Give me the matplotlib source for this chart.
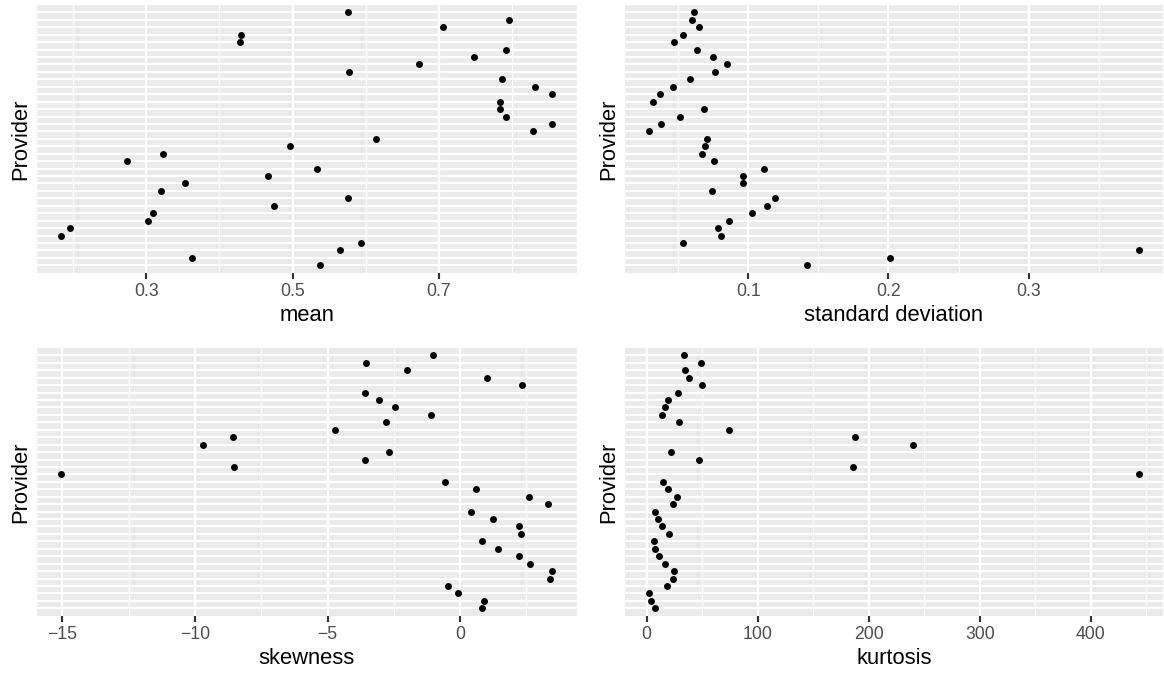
import matplotlib

matplotlib.use("Agg")
import matplotlib.pyplot as plt

plt.rcParams["font.family"] = ["Liberation Sans", "DejaVu Sans"]

# 35 providers, listed top to bottom (names are not shown on the chart)
providers = [f"P{ii:02d}" for ii in range(1, 36)]

mean_vals = [0.576, 0.795, 0.705, 0.430, 0.428, 0.791, 0.748, 0.673, 0.577, 0.786,
             0.831, 0.855, 0.783, 0.784, 0.792, 0.855, 0.829, 0.614, 0.496, 0.323,
             0.274, 0.534, 0.467, 0.353, 0.320, 0.576, 0.475, 0.310, 0.303, 0.196,
             0.184, 0.594, 0.565, 0.362, 0.538]

sd_vals = [0.0613, 0.0601, 0.0649, 0.0533, 0.0473, 0.0633, 0.0751, 0.0848, 0.0765, 0.0583,
           0.0464, 0.0374, 0.0322, 0.0687, 0.0512, 0.0377, 0.0293, 0.0708, 0.0692, 0.0673,
           0.0758, 0.1114, 0.0960, 0.0960, 0.0742, 0.1188, 0.1133, 0.1024, 0.0865, 0.0782,
           0.0808, 0.0533, 0.3783, 0.2011, 0.1416]

skew_vals = [-1.03, -3.56, -2.02, 1.03, 2.35, -3.59, -3.06, -2.46, -1.09, -2.79,
             -4.71, -8.56, -9.68, -2.69, -3.59, -8.54, -15.04, -0.57, 0.60, 2.59,
             3.30, 0.40, 1.23, 2.23, 2.31, 0.82, 1.44, 2.21, 2.64, 3.48,
             3.39, -0.45, -0.08, 0.90, 0.82]

kurt_vals = [33.3, 49.1, 34.2, 38.1, 50.0, 28.4, 19.4, 16.5, 14.1, 28.8,
             74.0, 187.7, 240.2, 21.9, 47.4, 185.6, 442.9, 15.0, 18.9, 27.6,
             24.0, 7.8, 9.9, 13.5, 19.8, 6.9, 7.5, 11.4, 16.8, 24.6,
             23.4, 18.3, 2.1, 3.9, 7.8]

# x label, values, major breaks, minor breaks
panels = [
    ("mean", mean_vals, [0.3, 0.5, 0.7], [0.2, 0.4, 0.6, 0.8]),
    ("standard deviation", sd_vals, [0.1, 0.2, 0.3], [0.05, 0.15, 0.25, 0.35]),
    ("skewness", skew_vals, [-15, -10, -5, 0], [-12.5, -7.5, -2.5, 2.5]),
    ("kurtosis", kurt_vals, [0, 100, 200, 300, 400], [50, 150, 250, 350, 450]),
]

W, H, DPI = 1164, 673, 144
fig = plt.figure(figsize=(W / DPI, H / DPI), dpi=DPI)

# panel rectangles in pixels: left, top, right, bottom
rects = [
    (36.7, 5.0, 577.0, 272.7),
    (624.5, 5.0, 1163.0, 272.7),
    (36.7, 348.0, 577.0, 615.7),
    (624.5, 348.0, 1163.0, 615.7),
]

for (xlabel, vals, major, minor), (l, t, r, b) in zip(panels, rects):
    ax = fig.add_axes([l / W, 1 - b / H, (r - l) / W, (b - t) / H])
    ax.set_facecolor("#EBEBEB")
    ax.scatter(vals, providers, s=12, color="black", zorder=3, linewidths=0)
    ax.set_ylim(len(providers), -1)
    ax.set_xticks(major)
    ax.set_xticks(minor, minor=True)
    # ggplot style 5% expansion
    pad = 0.05 * (max(vals) - min(vals))
    ax.set_xlim(min(vals) - pad, max(vals) + pad)
    ax.grid(which="major", color="white", linewidth=1.07)
    ax.grid(which="minor", axis="x", color="white", linewidth=0.53)
    ax.set_axisbelow(True)
    for side in ax.spines.values():
        side.set_visible(False)
    ax.tick_params(axis="y", length=0, labelleft=False)
    ax.tick_params(axis="x", which="major", length=2.75, width=1.07, color="#333333",
                   labelsize=8.8, labelcolor="#4D4D4D", pad=2.2)
    ax.tick_params(axis="x", which="minor", length=0)
    ax.set_xlabel(xlabel, fontsize=11, labelpad=2.75)
    ax.set_ylabel("Provider", fontsize=11, labelpad=2.75)

fig.savefig("out.png", dpi=DPI)
